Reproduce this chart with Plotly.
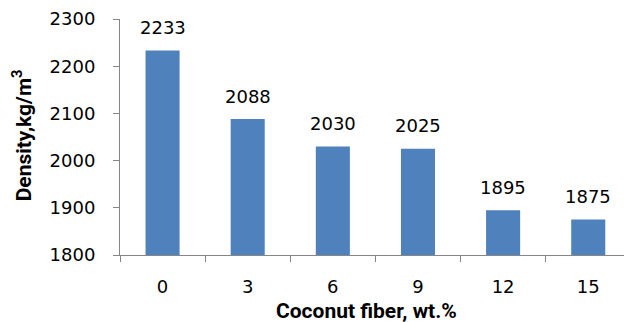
import plotly.graph_objects as go

# Density of specimens vs. coconut fiber content
fiber_pct = ["0", "3", "6", "9", "12", "15"]
density = [2233, 2088, 2030, 2025, 1895, 1875]
y_ticks = [1800, 1900, 2000, 2100, 2200, 2300]

BAR_COLOR = "#4F81BD"
AXIS_COLOR = "#868686"
NUM_FONT = dict(family="DejaVu Sans", size=18, color="#000000")
TITLE_FONT = dict(family="Roboto, Arial", size=21, color="#000000")

fig = go.Figure(
    go.Bar(
        x=fiber_pct,
        y=density,
        marker=dict(color=BAR_COLOR, line=dict(width=0)),
        width=0.4,
        hoverinfo="skip",
    )
)

# value labels above each bar (category axis positions are the indices)
for idx, val in enumerate(density):
    fig.add_annotation(
        x=idx, y=val, xref="x", yref="y",
        text=str(val), showarrow=False,
        yanchor="middle", yshift=23,
        font=NUM_FONT,
    )

# axis titles
fig.add_annotation(
    x=0.49, y=-0.238, xref="paper", yref="paper",
    text="<b>Coconut fiber, wt.%</b>", showarrow=False,
    xanchor="center", yanchor="middle", font=TITLE_FONT,
)
fig.add_annotation(
    x=-0.194, y=0.508, xref="paper", yref="paper",
    text="<b>Density,kg/m<sup>3</sup></b>", showarrow=False,
    textangle=-90, xanchor="center", yanchor="middle", font=TITLE_FONT,
)

fig.update_layout(
    width=624, height=322,
    margin=dict(l=120, r=0, t=19, b=67),
    paper_bgcolor="white", plot_bgcolor="white",
    showlegend=False,
    bargap=0.6,
)
fig.update_xaxes(
    type="category",
    range=[-0.5, 5.42],
    showline=True, linecolor=AXIS_COLOR, linewidth=1,
    ticks="outside", tickson="boundaries", ticklen=6, tickcolor=AXIS_COLOR,
    ticklabelstandoff=15,
    tickfont=NUM_FONT,
    showgrid=False, zeroline=False,
)
fig.update_yaxes(
    range=[1800, 2300],
    tickvals=y_ticks,
    showline=True, linecolor=AXIS_COLOR, linewidth=1,
    ticks="outside", ticklen=6, tickcolor=AXIS_COLOR,
    ticklabelstandoff=14,
    tickfont=NUM_FONT,
    showgrid=False, zeroline=False,
)

fig.write_html("out.html")
